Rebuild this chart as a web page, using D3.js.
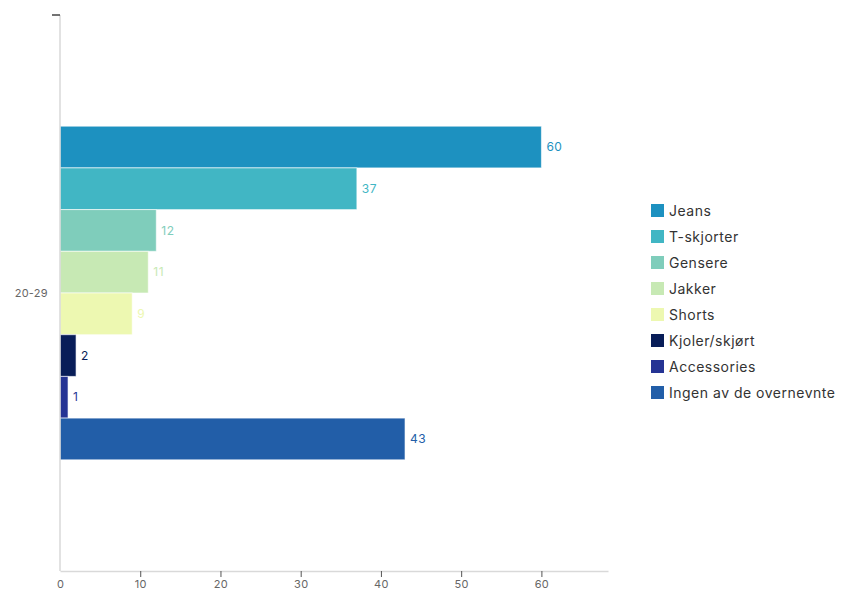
<!DOCTYPE html>
<html>
<head>
<meta charset="utf-8">
<script src="https://cdn.jsdelivr.net/npm/d3@7"></script>
<style>
  html, body { margin: 0; padding: 0; background: #fff; }
  svg { display: block; font-family: Inter, "Noto Sans", sans-serif; }
</style>
</head>
<body>
<svg id="chart" width="842" height="592"></svg>
<script>
// Age groups on the vertical axis
const groups = ["20-29"];
// Garment categories (one bar each inside the group)
const categories = ["Jeans", "T-skjorter", "Gensere", "Jakker", "Shorts", "Kjoler/skjørt", "Accessories", "Ingen av de overnevnte"];
// Counts per category for the 20-29 group
const values = [60, 37, 12, 11, 9, 2, 1, 43];
// Tick values for the horizontal axis
const xTicks = [0, 10, 20, 30, 40, 50, 60];
// Bar colours
const colors = ["#1d91c0", "#41b6c4", "#7fcdbb", "#c7e9b4", "#edf8b1", "#081d58", "#253494", "#225ea8"];

const svg = d3.select("#chart");
const m = { left: 60, top: 15, right: 608, bottom: 571 };

const x = d3.scaleLinear().domain([0, 68.3]).range([m.left, m.right]);
const y0 = d3.scaleBand().domain(groups).range([m.top, m.bottom]).paddingInner(0.25).paddingOuter(0.25);
const y1 = d3.scaleBand().domain(categories).range([0, y0.bandwidth()]);
const color = d3.scaleOrdinal().domain(categories).range(colors);

const rows = categories.map((c, i) => ({ group: groups[0], cat: c, value: values[i] }));

// Bars
const g = svg.append("g");
g.selectAll("rect.bar")
  .data(rows)
  .join("rect")
  .attr("class", "bar")
  .attr("x", x(0))
  .attr("y", d => y0(d.group) + y1(d.cat))
  .attr("width", d => x(d.value) - x(0))
  .attr("height", y1.bandwidth())
  .attr("fill", d => color(d.cat))
  .attr("stroke", "rgba(255,255,255,0.6)")
  .attr("stroke-width", 1);

// Value labels
g.selectAll("text.val")
  .data(rows)
  .join("text")
  .attr("class", "val")
  .attr("x", d => x(d.value) + 5)
  .attr("y", d => y0(d.group) + y1(d.cat) + y1.bandwidth() / 2)
  .attr("dy", "0.35em")
  .attr("font-size", 12)
  .attr("letter-spacing", 0.5)
  .attr("fill", d => color(d.cat))
  .text(d => d.value);

// Vertical axis line with its top tick
svg.append("line")
  .attr("x1", m.left).attr("x2", m.left)
  .attr("y1", m.top).attr("y2", m.bottom)
  .attr("stroke", "#d9d9d9").attr("stroke-width", 1.5);
svg.append("line")
  .attr("x1", m.left - 8).attr("x2", m.left)
  .attr("y1", m.top).attr("y2", m.top)
  .attr("stroke", "#444").attr("stroke-width", 1.5);

// Group label
svg.selectAll("text.grp")
  .data(groups)
  .join("text")
  .attr("class", "grp")
  .attr("x", m.left - 12)
  .attr("y", d => y0(d) + y0.bandwidth() / 2)
  .attr("dy", "0.35em")
  .attr("text-anchor", "end")
  .attr("font-size", 11)
  .attr("letter-spacing", 0.3)
  .attr("fill", "#666")
  .text(d => d);

// Horizontal axis
const xAxis = svg.append("g")
  .attr("transform", `translate(0,${m.bottom})`)
  .call(d3.axisBottom(x).tickValues(xTicks).tickSize(6).tickSizeOuter(0).tickPadding(3));
xAxis.select(".domain").attr("stroke", "#d9d9d9").attr("stroke-width", 1.5);
xAxis.selectAll(".tick line").attr("stroke", d => d === 0 ? "none" : "#555");
xAxis.selectAll(".tick text").attr("fill", "#666").attr("font-size", 11)
  .attr("letter-spacing", 0.3)
  .attr("font-family", "Inter, 'Noto Sans', sans-serif");

// Legend
const legend = svg.append("g").attr("transform", "translate(651,204)");
const item = legend.selectAll("g")
  .data(categories)
  .join("g")
  .attr("transform", (d, i) => `translate(0,${i * 26})`);
item.append("rect")
  .attr("width", 13).attr("height", 13)
  .attr("fill", d => color(d));
item.append("text")
  .attr("x", 18).attr("y", 7)
  .attr("dy", "0.35em")
  .attr("font-size", 14)
  .attr("letter-spacing", 0.5)
  .attr("fill", "#333")
  .text(d => d);
</script>
</body>
</html>
